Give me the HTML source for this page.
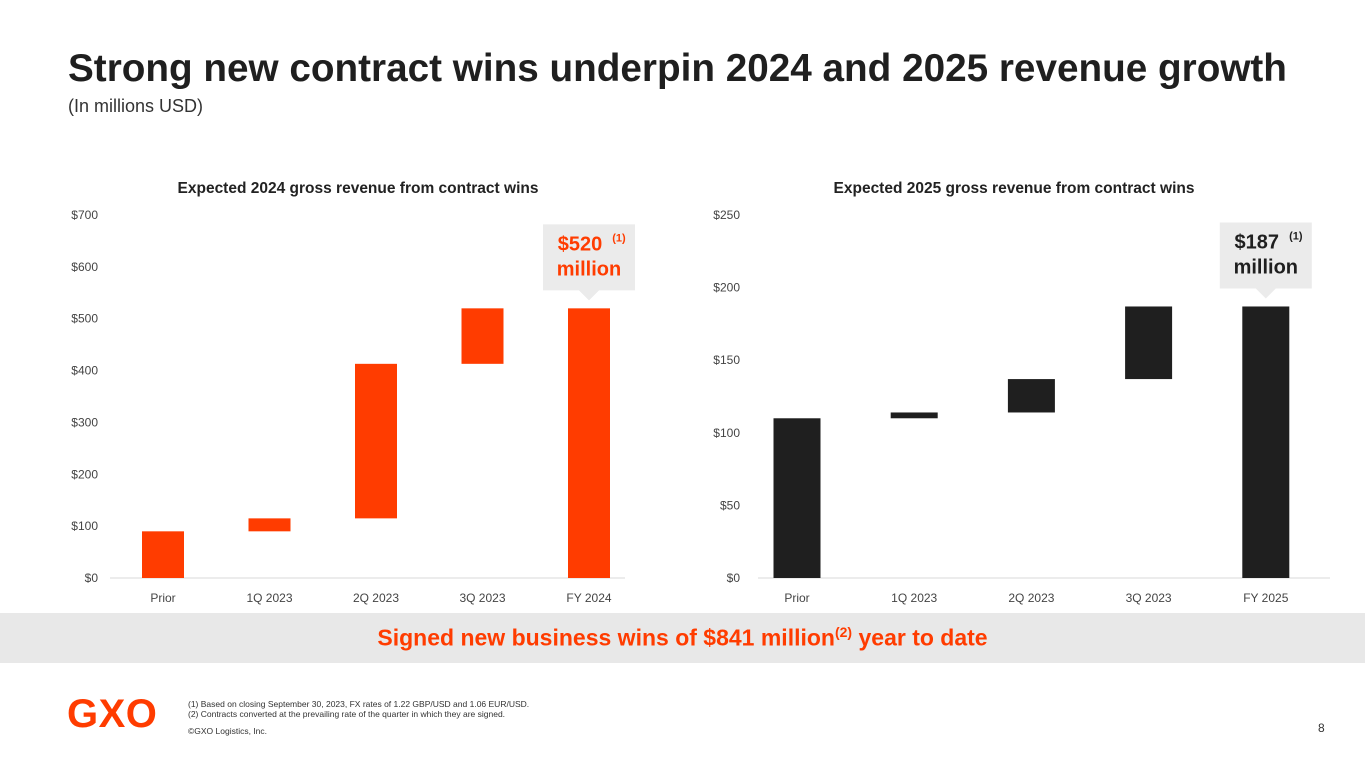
<!DOCTYPE html>
<html><head><meta charset="utf-8"><style>
body{margin:0;width:1365px;height:768px;background:#fff;font-family:"Liberation Sans",sans-serif;position:relative;overflow:hidden}
.abs{position:absolute}
</style></head><body>
<div class="abs" style="left:68px;top:47px;font-size:38.7px;font-weight:bold;color:#1f1f1f;white-space:nowrap">Strong new contract wins underpin 2024 and 2025 revenue growth</div>
<div class="abs" style="left:68px;top:96px;font-size:18px;color:#333">(In millions USD)</div>
<div class="abs" style="left:0;top:613px;width:1365px;height:50px;background:#e8e8e8"></div>
<div class="abs" style="left:0;top:624px;width:1365px;text-align:center;font-size:23px;font-weight:bold;color:#ff3c00">Signed new business wins of $841 million<sup style="font-size:14px">(2)</sup> year to date</div>
<div class="abs" style="left:67px;top:692px;font-size:40px;font-weight:900;color:#ff3c00;letter-spacing:0.5px">GXO</div>
<div class="abs" style="left:188px;top:699px;font-size:8.5px;color:#333;line-height:10px">(1) Based on closing September 30, 2023, FX rates of 1.22 GBP/USD and 1.06 EUR/USD.<br>(2) Contracts converted at the prevailing rate of the quarter in which they are signed.</div>
<div class="abs" style="left:188px;top:726px;font-size:8.5px;color:#333">©GXO Logistics, Inc.</div>
<div class="abs" style="left:1318px;top:721px;font-size:12px;color:#333">8</div>
<svg id="c" class="abs" style="left:0;top:0" width="1365" height="613"></svg>
<script>
const cats1=["Prior","1Q 2023","2Q 2023","3Q 2023","FY 2024"];
const base1=[0,90,115,413,0];
const top1=[90,115,413,520,520];
const ticks1=[0,100,200,300,400,500,600,700];
const cats2=["Prior","1Q 2023","2Q 2023","3Q 2023","FY 2025"];
const base2=[0,110,114,137,0];
const top2=[110,114,137,187,187];
const ticks2=[0,50,100,150,200,250];
const svg=document.getElementById('c');const NS="http://www.w3.org/2000/svg";
function el(t,a,txt){const e=document.createElementNS(NS,t);for(const k in a)e.setAttribute(k,a[k]);if(txt!==undefined)e.textContent=txt;svg.appendChild(e);return e;}
function chart(o){
 const y=v=>578-v/o.max*363;
 const x=i=>o.x0+i*o.step;
 const t=el('text',{x:o.titleX,y:193,'text-anchor':'middle','font-size':15.5,'font-weight':'bold',fill:'#222'},o.title);
 
 o.ticks.forEach(v=>{const e=el('text',{x:o.axX,y:y(v)+4,'text-anchor':'end','font-size':12,fill:'#444'},'$'+v);
  });
 const b=el('line',{x1:o.l0,x2:o.l1,y1:578,y2:578,stroke:'#d9d9d9','stroke-width':1});
 
 o.cats.forEach((c,i)=>{
  const r=el('rect',{x:x(i)-o.bw/2,y:y(o.top[i]),width:o.bw,height:y(o.base[i])-y(o.top[i]),fill:o.color});
  
  const l=el('text',{x:x(i),y:602,'text-anchor':'middle','font-size':12,fill:'#444'},c);
  
 });
 const li=o.cats.length-1,cx=x(li),ty=y(o.top[li]);
 const p=el('path',{d:`M${cx-46} ${ty-84}h92v66h-36l-10 10l-10-10h-36z`,fill:'#ebebeb'});
 
 const v=el('text',{x:cx-9,y:ty-58,'text-anchor':'middle','font-size':20,'font-weight':'bold',fill:o.tc},'$'+o.top[li]);
 
 const s=el('text',{x:cx+30,y:ty-67,'text-anchor':'middle','font-size':11,'font-weight':'bold',fill:o.tc},'(1)');
 
 const m=el('text',{x:cx,y:ty-33,'text-anchor':'middle','font-size':20,'font-weight':'bold',fill:o.tc},'million');
 
}
chart({pre:'y2024',title:'Expected 2024 gross revenue from contract wins',titleX:358,cats:cats1,base:base1,top:top1,ticks:ticks1,max:700,x0:163,step:106.5,bw:42,axX:98,l0:110,l1:625,color:'#ff3c00',tc:'#ff3c00'});
chart({pre:'y2025',title:'Expected 2025 gross revenue from contract wins',titleX:1014,cats:cats2,base:base2,top:top2,ticks:ticks2,max:250,x0:797,step:117.2,bw:47,axX:740,l0:758,l1:1330,color:'#1f1f1f',tc:'#1f1f1f'});
</script>
</body></html>
